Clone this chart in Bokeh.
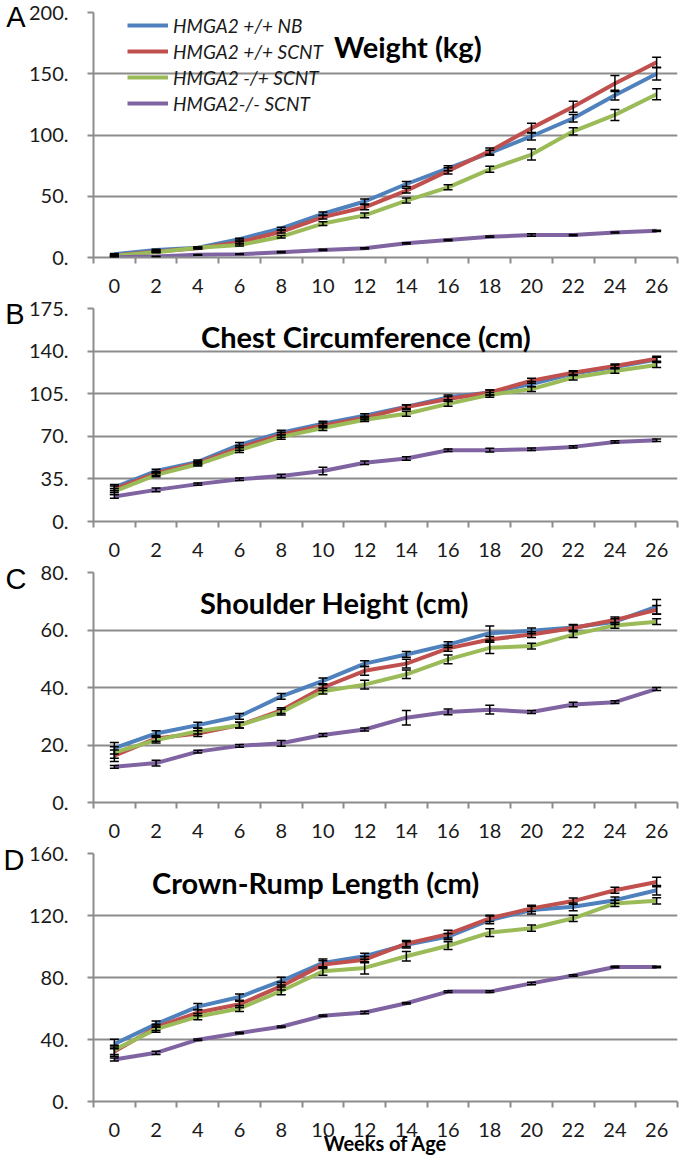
from bokeh.plotting import figure
from bokeh.models import (Range1d, FixedTicker, Label, Legend, LegendItem, LinearAxis,
                          Whisker, TeeHead, ColumnDataSource)
from bokeh.layouts import column
from bokeh.embed import file_html
from bokeh.resources import INLINE

weeks = [0, 2, 4, 6, 8, 10, 12, 14, 16, 18, 20, 22, 24, 26]
series_names = ["HMGA2 +/+ NB", "HMGA2 +/+ SCNT", "HMGA2 -/+ SCNT", "HMGA2-/- SCNT"]
colors = ["#4F81BD", "#C0504D", "#9BBB59", "#8064A2"]

# Panel A: Weight (kg)
weight_nb = [2.7, 6.2, 8.0, 15.0, 23.7, 35.7, 45.7, 60.0, 72.8, 85.5, 99.0, 113.7, 132.5, 150.0]
weight_scnt = [1.6, 4.8, 7.5, 12.4, 21.0, 33.0, 41.0, 54.6, 70.7, 86.8, 105.6, 123.0, 142.0, 159.4]
weight_het = [1.5, 4.3, 8.0, 10.2, 17.0, 27.7, 34.4, 46.5, 57.3, 72.0, 84.0, 103.0, 116.4, 133.3]
weight_ko = [0.3, 0.8, 2.2, 2.7, 4.3, 6.2, 7.5, 11.6, 14.2, 17.0, 18.3, 18.3, 20.4, 21.8]
weight_nb_se = [0.5, 0.5, 0.6, 0.8, 1.0, 1.5, 2.0, 2.0, 2.0, 2.0, 3.0, 3.0, 4.0, 5.0]
weight_scnt_se = [0.5, 0.5, 0.6, 0.8, 1.0, 1.5, 2.0, 2.0, 2.5, 2.5, 4.0, 4.5, 6.5, 4.0]
weight_het_se = [0.5, 0.5, 0.6, 0.8, 1.0, 1.5, 2.0, 2.0, 2.0, 2.5, 4.5, 3.0, 4.5, 4.5]
weight_ko_se = [0.3, 0.3, 0.3, 0.3, 0.5, 0.5, 0.5, 0.5, 0.5, 0.5, 1.0, 0.5, 0.5, 0.5]
weight_ticks = [0, 50, 100, 150, 200]

# Panel B: Chest Circumference (cm)
chest_nb = [28.0, 41.5, 49.0, 63.0, 73.0, 80.3, 87.0, 94.4, 102.0, 106.0, 113.0, 121.5, 127.0, 133.0]
chest_scnt = [26.6, 39.6, 48.0, 60.5, 71.3, 79.0, 85.0, 94.0, 100.7, 106.0, 115.6, 122.3, 127.8, 133.7]
chest_het = [24.7, 38.3, 47.0, 58.6, 69.5, 76.8, 83.6, 88.5, 96.6, 104.0, 108.8, 118.3, 123.7, 128.6]
chest_ko = [20.6, 26.0, 30.7, 34.7, 37.4, 41.5, 48.3, 51.8, 58.6, 58.6, 59.4, 61.3, 65.4, 66.7]
chest_nb_se = [2.5, 1.5, 1.5, 2.0, 2.0, 2.0, 1.5, 1.5, 2.0, 2.0, 2.0, 1.5, 1.5, 2.0]
chest_scnt_se = [2.5, 1.5, 1.5, 2.0, 2.0, 2.0, 1.5, 2.0, 2.0, 2.0, 2.0, 1.5, 1.5, 2.0]
chest_het_se = [2.5, 1.5, 1.5, 2.0, 2.0, 2.0, 1.5, 2.0, 2.0, 2.0, 2.0, 2.0, 2.0, 2.0]
chest_ko_se = [1.5, 1.5, 1.0, 1.0, 1.5, 3.0, 1.5, 1.5, 1.0, 1.5, 1.0, 1.0, 1.0, 1.0]
chest_ticks = [0, 35, 70, 105, 140, 175]

# Panel C: Shoulder Height (cm)
shoulder_nb = [18.9, 24.0, 26.9, 30.0, 36.9, 42.3, 48.3, 51.5, 54.9, 58.9, 59.7, 60.9, 62.9, 68.1]
shoulder_scnt = [16.3, 22.3, 24.0, 26.9, 32.0, 40.0, 45.8, 48.3, 53.6, 56.7, 58.4, 60.7, 63.5, 67.0]
shoulder_het = [17.4, 21.7, 24.8, 26.9, 31.4, 38.7, 41.0, 44.6, 49.8, 53.8, 54.4, 58.4, 61.6, 62.9]
shoulder_ko = [12.4, 13.7, 17.7, 19.7, 20.6, 23.5, 25.4, 29.5, 31.5, 32.3, 31.5, 34.1, 34.9, 39.5]
shoulder_nb_se = [2.0, 1.0, 1.0, 1.0, 1.0, 1.0, 1.0, 1.0, 1.0, 2.5, 1.0, 1.0, 1.0, 2.5]
shoulder_scnt_se = [2.0, 1.0, 1.0, 1.0, 1.0, 1.0, 1.5, 1.5, 1.0, 1.0, 1.0, 1.0, 1.0, 1.5]
shoulder_het_se = [2.0, 1.0, 1.0, 1.0, 1.0, 1.0, 1.5, 1.5, 1.5, 2.0, 1.0, 1.0, 1.0, 1.0]
shoulder_ko_se = [0.5, 1.0, 0.5, 0.5, 1.0, 0.5, 0.5, 2.5, 1.0, 1.5, 0.5, 0.8, 0.5, 0.5]
shoulder_ticks = [0, 20, 40, 60, 80]

# Panel D: Crown-Rump Length (cm)
crown_nb = [37.1, 49.9, 61.2, 67.4, 77.7, 89.4, 93.7, 101.1, 106.4, 117.1, 123.5, 125.6, 129.9, 136.3]
crown_scnt = [32.2, 47.8, 57.4, 62.7, 74.4, 88.3, 91.5, 101.8, 108.0, 118.2, 124.6, 129.3, 136.3, 141.6]
crown_het = [33.3, 46.7, 54.8, 60.0, 71.3, 84.0, 86.2, 93.7, 100.5, 109.0, 111.8, 118.2, 127.8, 129.5]
crown_ko = [27.1, 31.4, 39.9, 44.2, 48.2, 55.3, 57.4, 63.4, 70.9, 70.9, 76.2, 81.3, 86.8, 86.8]
crown_nb_se = [3.0, 2.0, 2.0, 2.0, 2.5, 2.5, 2.0, 2.0, 2.0, 2.5, 2.5, 2.5, 2.0, 3.0]
crown_scnt_se = [3.0, 2.0, 2.0, 2.0, 2.5, 2.5, 2.0, 2.0, 2.5, 2.0, 2.0, 2.0, 2.0, 3.0]
crown_het_se = [3.0, 2.0, 2.0, 2.0, 2.5, 2.5, 4.0, 3.0, 2.5, 2.5, 2.0, 2.0, 2.0, 2.0]
crown_ko_se = [1.0, 1.0, 0.5, 0.5, 0.5, 0.5, 0.8, 0.5, 0.5, 0.5, 0.8, 0.5, 0.5, 0.5]
crown_ticks = [0, 40, 80, 120, 160]

panel_letters = ["A", "B", "C", "D"]
panel_titles = ["Weight (kg)", "Chest Circumference (cm)", "Shoulder Height (cm)", "Crown-Rump Length (cm)"]
x_title = "Weeks of Age"

panels = [
    dict(vals=[weight_nb, weight_scnt, weight_het, weight_ko],
         se=[weight_nb_se, weight_scnt_se, weight_het_se, weight_ko_se],
         ticks=weight_ticks, top=12, frame=245, bottom=40, title_xy=(14.07, 172), letter_so=0),
    dict(vals=[chest_nb, chest_scnt, chest_het, chest_ko],
         se=[chest_nb_se, chest_scnt_se, chest_het_se, chest_ko_se],
         ticks=chest_ticks, top=11, frame=213, bottom=40, title_xy=(12.06, 152), letter_so=1),
    dict(vals=[shoulder_nb, shoulder_scnt, shoulder_het, shoulder_ko],
         se=[shoulder_nb_se, shoulder_scnt_se, shoulder_het_se, shoulder_ko_se],
         ticks=shoulder_ticks, top=11, frame=230, bottom=40, title_xy=(10.56, 69.7), letter_so=11),
    dict(vals=[crown_nb, crown_scnt, crown_het, crown_ko],
         se=[crown_nb_se, crown_scnt_se, crown_het_se, crown_ko_se],
         ticks=crown_ticks, top=11, frame=248, bottom=57, title_xy=(9.65, 141.4), letter_so=1),
]

GRAY = "#8c8c8c"
FONT = "Lato"
W = 680
LEFT = 88
figs = []
for i, pdef in enumerate(panels):
    ticks = pdef["ticks"]
    h = pdef["top"] + pdef["frame"] + pdef["bottom"]
    p = figure(width=W, height=h, output_backend="svg", toolbar_location=None,
               x_range=Range1d(weeks[0] - 1, weeks[-1] + 1),
               y_range=Range1d(ticks[0], ticks[-1]),
               min_border_left=LEFT, min_border_right=3,
               min_border_top=pdef["top"], min_border_bottom=pdef["bottom"])
    p.outline_line_color = None
    p.background_fill_color = "white"
    p.border_fill_color = "white"
    p.xgrid.visible = False
    p.ygrid.ticker = FixedTicker(ticks=ticks)
    p.ygrid.grid_line_color = GRAY
    p.ygrid.grid_line_width = 2

    xa = p.xaxis[0]
    xa.ticker = FixedTicker(ticks=weeks, minor_ticks=[w - 1 for w in weeks] + [weeks[-1] + 1])
    xa.major_tick_out = 0
    xa.major_tick_in = 0
    xa.minor_tick_out = 6
    xa.minor_tick_in = 0
    xa.minor_tick_line_color = GRAY
    xa.minor_tick_line_width = 2
    xa.axis_line_color = GRAY
    xa.axis_line_width = 2
    xa.major_label_text_font = FONT
    xa.major_label_text_font_size = "20px"
    xa.major_label_text_color = "#1a1a1a"
    xa.major_label_standoff = 15

    ya = p.yaxis[0]
    ya.ticker = FixedTicker(ticks=ticks)
    ya.major_label_overrides = {t: f"{t}." for t in ticks}
    ya.major_tick_out = 6
    ya.major_tick_in = 0
    ya.minor_tick_out = 0
    ya.minor_tick_in = 0
    ya.major_tick_line_color = GRAY
    ya.major_tick_line_width = 2
    ya.axis_line_color = GRAY
    ya.axis_line_width = 2
    ya.major_label_text_font = FONT
    ya.major_label_text_font_size = "20px"
    ya.major_label_text_color = "#1a1a1a"
    ya.major_label_standoff = 19

    # panel letter as an outer label-only axis
    span = ticks[-1] - ticks[0]
    ly = round(ticks[-1] - 4 * span / pdef["frame"], 2)
    la = LinearAxis(ticker=FixedTicker(ticks=[ly]), major_label_overrides={ly: panel_letters[i]},
                    axis_line_color=None, major_tick_line_color=None, minor_tick_line_color=None,
                    major_tick_out=0, major_tick_in=0, minor_tick_out=0, minor_tick_in=0,
                    major_label_standoff=pdef["letter_so"], major_label_text_font="Liberation Sans",
                    major_label_text_font_size="29px", major_label_text_color="black")
    p.add_layout(la, "left")

    renderers = []
    for vals, se, col in zip(pdef["vals"], pdef["se"], colors):
        src = ColumnDataSource(dict(x=weeks, y=vals,
                                    lo=[v - s for v, s in zip(vals, se)],
                                    hi=[v + s for v, s in zip(vals, se)]))
        r = p.line("x", "y", source=src, line_color=col, line_width=4, line_join="round")
        renderers.append(r)
        wk = Whisker(source=src, base="x", lower="lo", upper="hi", level="annotation",
                     line_color="black", line_width=1.5,
                     upper_head=TeeHead(size=9, line_color="black", line_width=1.5),
                     lower_head=TeeHead(size=9, line_color="black", line_width=1.5))
        p.add_layout(wk)

    tx, ty = pdef["title_xy"]
    p.add_layout(Label(x=tx, y=ty, text=panel_titles[i], text_align="center",
                       text_baseline="middle", text_font=FONT, text_font_style="bold",
                       text_font_size="29px", text_color="black"))

    if i == 0:
        legend = Legend(items=[LegendItem(label=n, renderers=[r]) for n, r in zip(series_names, renderers)],
                        location=(34, 142), orientation="vertical",
                        glyph_width=41, glyph_height=24, label_height=24, spacing=2,
                        padding=0, margin=0, label_standoff=5,
                        border_line_color=None, background_fill_alpha=0,
                        label_text_font=FONT, label_text_font_style="italic",
                        label_text_font_size="19px", label_text_color="#1a1a1a")
        p.add_layout(legend)
    if i == len(panels) - 1:
        xa.axis_label = x_title
        xa.axis_label_text_font = FONT
        xa.axis_label_text_font_style = "bold"
        xa.axis_label_text_font_size = "20px"
        xa.axis_label_text_color = "black"
        xa.axis_label_standoff = -9
    figs.append(p)

layout = column(*figs, spacing=0)
open("out.html", "w").write(file_html(layout, INLINE))
